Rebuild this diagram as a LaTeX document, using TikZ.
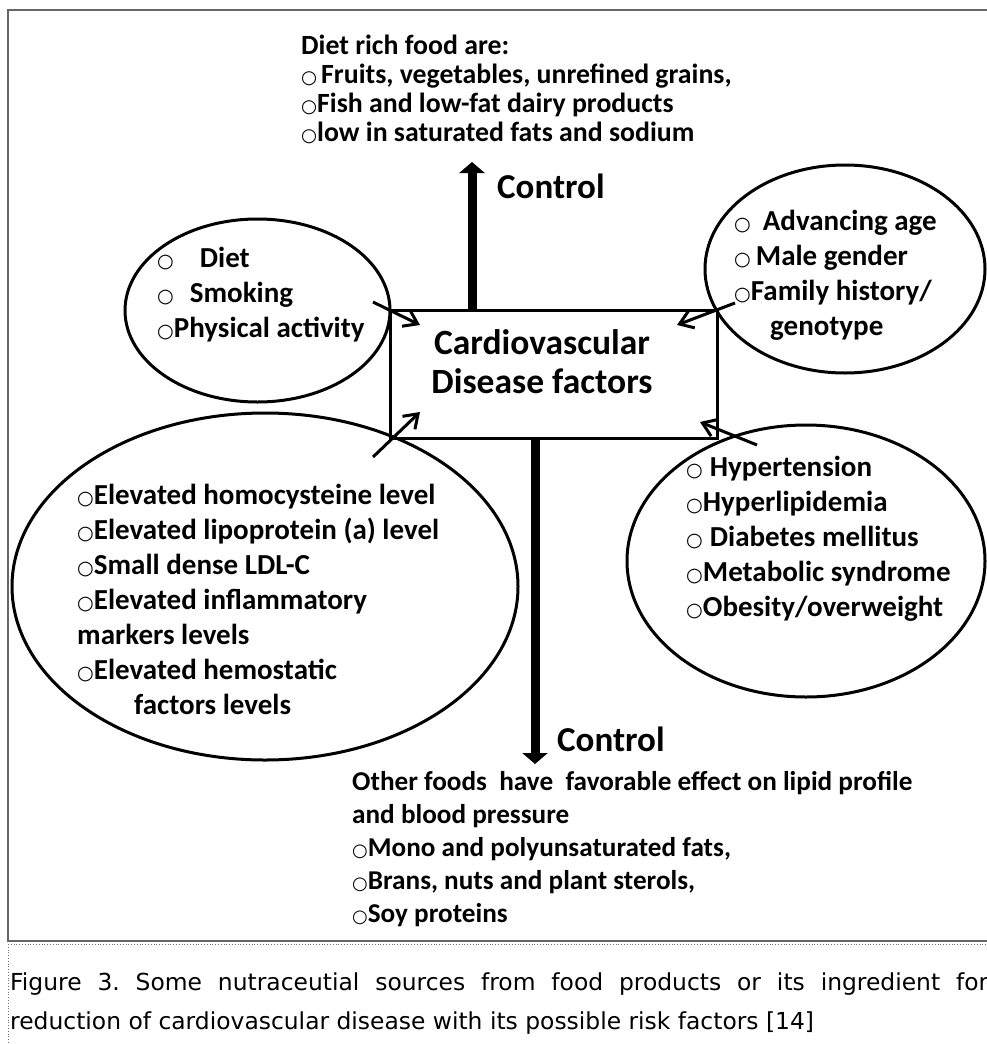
\documentclass[tikz,border=0pt]{standalone}
\usepackage{graphicx}
\usepackage{fontspec}
\setmainfont{Carlito}
\newfontfamily\dv{DejaVu Sans}
\newfontfamily\capfont{DejaVu Sans}
\usetikzlibrary{arrows.meta,shapes.geometric,calc}
\newcommand\cir{\scalebox{0.66}{\dv ○}}
\begin{document}
\begin{tikzpicture}[x=1pt,y=-1pt,
  ell/.style={draw, ellipse, line width=3pt, inner sep=0pt},
  txt/.style={inner sep=0pt, align=left, anchor=west},
  etxt/.style={txt, font=\fontsize{29}{35}\selectfont\bfseries},
  thin arrow/.style={line width=3pt, -{Straight Barb[length=13pt,width=18pt]}},
  thick arrow/.style={line width=9pt, -{Triangle[length=11pt,width=25pt]}},
  ctrl/.style={txt, font=\fontsize{35}{40}\selectfont\bfseries},
  framecol/.style={draw=black!60, line width=1.5pt}]
\useasboundingbox (0,0) rectangle (987,1044);
\fill[white] (0,0) rectangle (987,1044);
% frame
\draw[framecol] (8,10) rectangle (1000,941);
\draw[black!55, dotted, line width=0.8pt] (8,944) -- (1000,944);
\draw[black!55, dotted, line width=0.8pt] (8,944) -- (8,1050);
% central box
\node[draw, line width=3pt, minimum width=327pt, minimum height=128pt, inner sep=0pt] (box) at (553.5,374) {};
\node[inner sep=0pt, align=center, font=\fontsize{35.5}{39}\selectfont\bfseries] (boxtxt) at (542,362) {Cardiovascular\\Disease factors};
% ellipses
\node[ell, minimum width=265pt, minimum height=183pt] (e1) at (257.5,310.5) {};
\node[ell, minimum width=280pt, minimum height=208pt] (e2) at (845,269) {};
\node[ell, minimum width=506pt, minimum height=347pt] (e3) at (265,586.5) {};
\node[ell, minimum width=358pt, minimum height=272pt] (e4) at (806,561) {};
% ellipse texts
\node[etxt] (t1) at (157,295) {\cir\hspace{26pt}Diet\\\cir\hspace{16pt}Smoking\\\cir Physical activity};
\node[etxt] (t2) at (734,275) {\cir\hspace{12pt}Advancing age\\\cir\hspace{5pt}Male gender\\\cir Family history/\\\hspace{36pt}genotype};
\node[etxt] (t3) at (77,599) {\cir Elevated homocysteine level\\\cir Elevated lipoprotein (a) level\\\cir Small dense LDL-C\\\cir Elevated inflammatory\\markers levels\\\cir Elevated hemostatic\\\hspace{57pt}factors levels};
\node[etxt] (t4) at (686,539) {\cir\hspace{7pt}Hypertension\\\cir Hyperlipidemia\\\cir\hspace{7pt}Diabetes mellitus\\\cir Metabolic syndrome\\\cir Obesity/overweight};
% top and bottom text
\node[txt, font=\fontsize{27.8}{29}\selectfont\bfseries] (top) at (301,89) {Diet rich food are:\\\cir\hspace{4pt}Fruits, vegetables, unrefined grains,\\\cir Fish and low-fat dairy products\\\cir low in saturated fats and sodium};
\node[txt, font=\fontsize{27.2}{33}\selectfont\bfseries] (bot) at (352,849) {Other foods\ \ have\ \ favorable effect on lipid profile\\and blood pressure\\\cir Mono and polyunsaturated fats,\\\cir Brans, nuts and plant sterols,\\\cir Soy proteins};
% control labels
\node[ctrl] (c1) at (497,186) {Control};
\node[ctrl] (c2) at (557,739) {Control};
% thick arrows
\coordinate (upstart) at (box.north -| 472,0);
\coordinate (uptip) at (472,162);
\coordinate (downstart) at (box.south -| 535,0);
\coordinate (downtip) at (535,764);
\draw[thick arrow] (upstart) -- (uptip);
\draw[thick arrow] (downstart) -- (downtip);
% thin arrows
\coordinate (a1s) at (373,302); \coordinate (a1e) at (420,325);
\coordinate (a2s) at (735,303); \coordinate (a2e) at (677,325);
\coordinate (a3s) at (373,457); \coordinate (a3e) at (420,412);
\coordinate (a4s) at (757,445); \coordinate (a4e) at (700,422);
\draw[thin arrow] (a1s) -- (a1e);
\draw[thin arrow] (a2s) -- (a2e);
\draw[thin arrow] (a3s) -- (a3e);
\draw[thin arrow] (a4s) -- (a4e);
% caption
\node[inner sep=0pt, anchor=north west, text width=978pt, align=justify, font=\capfont\fontsize{23.4}{39}\selectfont] (cap) at (10,973) {\frenchspacing\noindent Figure 3. Some nutraceutial sources from food products or its ingredient for\linebreak reduction of cardiovascular disease with its possible risk factors [14]};
\end{tikzpicture}
\end{document}
